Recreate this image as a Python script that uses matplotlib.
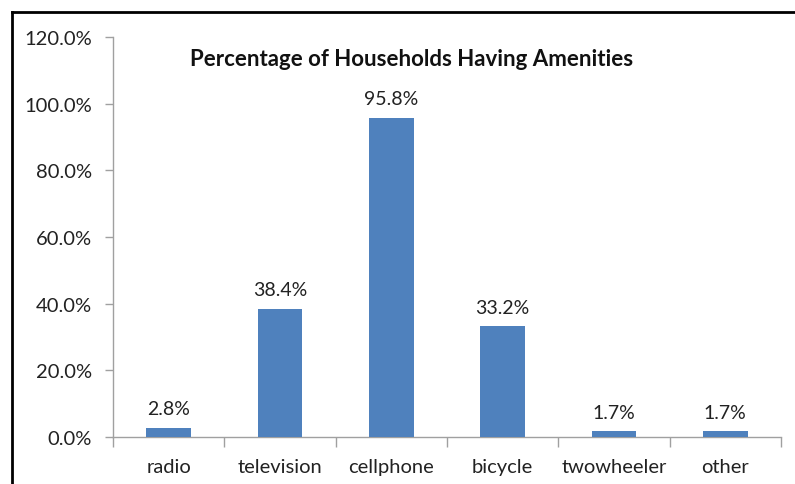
import matplotlib
matplotlib.use("Agg")
import matplotlib.pyplot as plt
from matplotlib.lines import Line2D
from matplotlib.ticker import FuncFormatter, MultipleLocator

categories = ["radio", "television", "cellphone", "bicycle", "twowheeler", "other"]
values = [2.8, 38.4, 95.8, 33.2, 1.7, 1.7]
title = "Percentage of Households Having Amenities"

plt.rcParams["font.family"] = ["Lato", "DejaVu Sans"]

fig = plt.figure(figsize=(7.95, 4.85), dpi=100)
ax = fig.add_axes([113 / 795, 1 - 438 / 485, (781 - 113) / 795, (438 - 38) / 485])

x = range(len(categories))
bars = ax.bar(x, values, width=0.4, color="#4f81bd", zorder=3)
for xi, v in zip(x, values):
    ax.text(xi, v + 3.2, f"{v:.1f}%", ha="center", va="bottom", fontsize=14, color="#222222")

ax.set_xlim(-0.5, len(categories) - 0.5)
ax.set_ylim(0, 120)
ax.yaxis.set_major_locator(MultipleLocator(20))
ax.yaxis.set_major_formatter(FuncFormatter(lambda v, p: f"{v:.1f}%"))

ax.set_xticks([i - 0.5 for i in range(len(categories) + 1)])
ax.set_xticklabels([])
ax.set_xticks(list(x), minor=True)
ax.set_xticklabels(categories, minor=True)
ax.tick_params(axis="x", which="major", length=7, color="#a0a0a0", width=1)
ax.tick_params(axis="x", which="minor", length=0, pad=15, labelsize=14.5, labelcolor="#222222")
ax.tick_params(axis="y", length=6, color="#a0a0a0", width=1, pad=9, labelsize=14.5, labelcolor="#222222")

for side in ["top", "right"]:
    ax.spines[side].set_visible(False)
for side in ["left", "bottom"]:
    ax.spines[side].set_color("#a0a0a0")
    ax.spines[side].set_linewidth(1)

fig.text(412 / 795, 1 - 60 / 485, title, ha="center", va="center",
         fontsize=16, fontweight="bold", color="#111111")

# outer frame around the chart
fig.add_artist(Line2D([12 / 795, 12 / 795], [0, 1 - 13 / 485], transform=fig.transFigure,
                      color="black", linewidth=2))
fig.add_artist(Line2D([12 / 795, 1], [1 - 13 / 485, 1 - 13 / 485], transform=fig.transFigure,
                      color="black", linewidth=2))

fig.savefig("out.png", dpi=100)
